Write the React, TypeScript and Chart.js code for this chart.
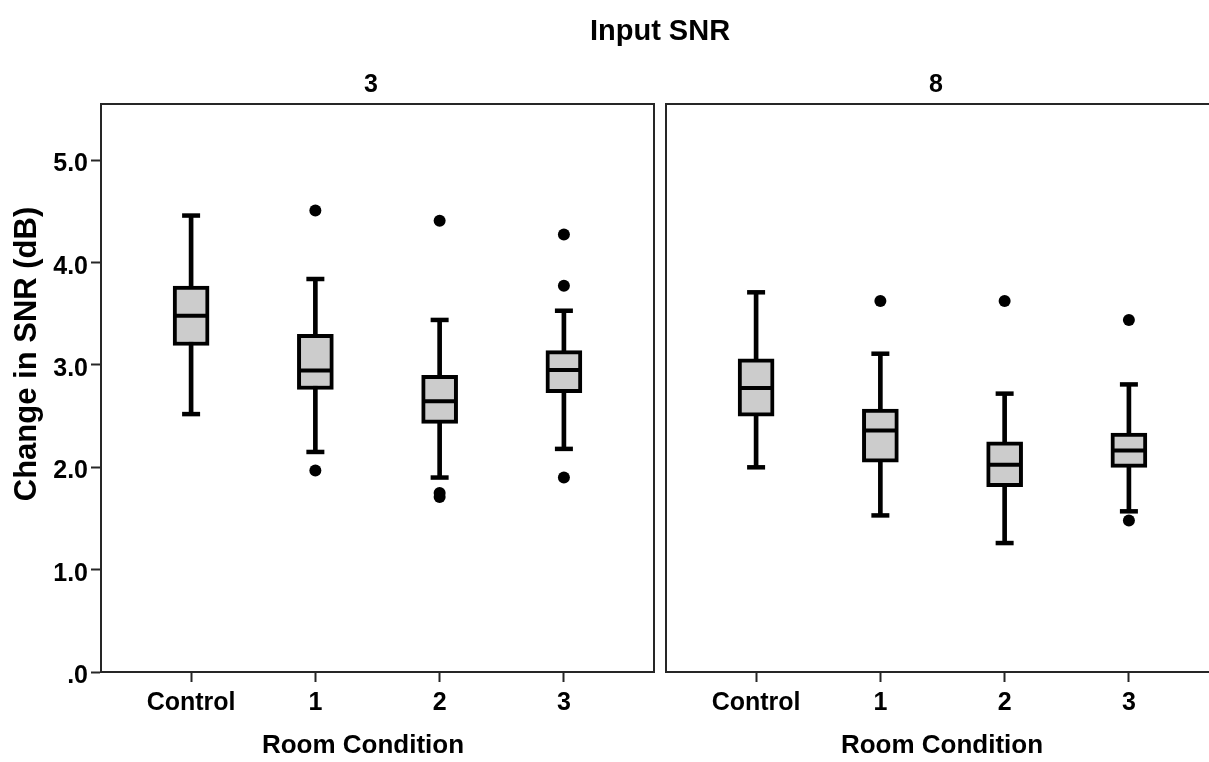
import React, { useEffect, useRef } from 'react';
import { Chart, registerables } from 'chart.js';

Chart.register(...registerables);

// Room conditions on the x axis, in drawing order
const categories = ['Control', '1', '2', '3'];
const yTicks = [0, 1, 2, 3, 4, 5];

// Input SNR = 3 dB
const snr3WhiskerLow = [2.52, 2.15, 1.9, 2.18];
const snr3Q1 = [3.19, 2.76, 2.43, 2.73];
const snr3Median = [3.48, 2.945, 2.645, 2.95];
const snr3Q3 = [3.77, 3.3, 2.9, 3.14];
const snr3WhiskerHigh = [4.46, 3.84, 3.44, 3.53];
const snr3Outliers = [[], [4.51, 1.97], [4.41, 1.75, 1.71], [4.275, 3.775, 1.9]];

// Input SNR = 8 dB
const snr8WhiskerLow = [2.0, 1.53, 1.26, 1.57];
const snr8Q1 = [2.5, 2.05, 1.81, 2.0];
const snr8Median = [2.775, 2.36, 2.025, 2.165];
const snr8Q3 = [3.06, 2.57, 2.25, 2.335];
const snr8WhiskerHigh = [3.71, 3.11, 2.72, 2.81];
const snr8Outliers = [[], [3.625], [3.625], [3.44, 1.48]];

const FONT = "'Liberation Sans', Arial, Helvetica, sans-serif";
const INK = '#000000';
const FRAME = '#262626';
const BOX_FILL = '#cccccc';

const X_MIN = -0.725;
const X_MAX = 3.725;
const Y_MIN = 0;
const Y_MAX = 5.55;

type TextItem = { text: string; x: number; y: number; size: number; rotate?: boolean };

function boxDatasets(
  low: number[],
  q1: number[],
  med: number[],
  q3: number[],
  high: number[],
  outliers: number[][]
) {
  const idx = categories.map((_, i) => i);
  return [
    {
      type: 'bar' as const,
      label: 'whisker',
      data: idx.map((i) => ({ x: i, y: [low[i], high[i]] })),
      backgroundColor: INK,
      borderWidth: 0,
      barThickness: 4,
      grouped: false,
      order: 5,
    },
    {
      type: 'bar' as const,
      label: 'box',
      data: idx.map((i) => ({ x: i, y: [q1[i], q3[i]] })),
      backgroundColor: BOX_FILL,
      borderColor: INK,
      borderWidth: 4,
      borderSkipped: false,
      barThickness: 36,
      grouped: false,
      order: 4,
    },
    {
      type: 'scatter' as const,
      label: 'caps',
      data: idx.flatMap((i) => [
        { x: i, y: low[i] },
        { x: i, y: high[i] },
      ]),
      pointStyle: 'line',
      pointRadius: 9,
      pointBorderWidth: 4.5,
      pointBorderColor: INK,
      order: 3,
    },
    {
      type: 'scatter' as const,
      label: 'median',
      data: idx.map((i) => ({ x: i, y: med[i] })),
      pointStyle: 'line',
      pointRadius: 16,
      pointBorderWidth: 4,
      pointBorderColor: INK,
      order: 2,
    },
    {
      type: 'scatter' as const,
      label: 'outliers',
      data: idx.flatMap((i) => outliers[i].map((v) => ({ x: i, y: v }))),
      pointStyle: 'circle',
      pointRadius: 6,
      pointBorderWidth: 0,
      pointBackgroundColor: INK,
      order: 1,
    },
  ];
}

function makePanel(
  canvas: HTMLCanvasElement,
  datasets: any[],
  showYAxis: boolean,
  padding: { left: number; right: number },
  texts: TextItem[]
) {
  const framePlugin = {
    id: 'panelFrame',
    beforeDatasetsDraw(chart: any) {
      const { ctx, chartArea } = chart;
      ctx.save();
      ctx.strokeStyle = FRAME;
      ctx.lineWidth = 2;
      ctx.strokeRect(chartArea.left, chartArea.top, chartArea.right - chartArea.left, chartArea.bottom - chartArea.top);
      ctx.restore();
    },
    afterDraw(chart: any) {
      const { ctx } = chart;
      ctx.save();
      ctx.fillStyle = INK;
      ctx.textAlign = 'center';
      ctx.textBaseline = 'middle';
      for (const t of texts) {
        ctx.font = `bold ${t.size}px ${FONT}`;
        if (t.rotate) {
          ctx.save();
          ctx.translate(t.x, t.y);
          ctx.rotate(-Math.PI / 2);
          ctx.fillText(t.text, 0, 0);
          ctx.restore();
        } else {
          ctx.fillText(t.text, t.x, t.y);
        }
      }
      ctx.restore();
    },
  };

  return new Chart(canvas, {
    type: 'bar',
    data: { datasets },
    options: {
      responsive: false,
      animation: false,
      events: [],
      devicePixelRatio: 1,
      layout: { padding: { left: padding.left, right: padding.right, top: 104, bottom: 0 } },
      plugins: { legend: { display: false }, tooltip: { enabled: false }, title: { display: false } },
      scales: {
        x: {
          type: 'linear',
          min: X_MIN,
          max: X_MAX,
          offset: false,
          afterFit: (scale: any) => {
            scale.height = 90;
          },
          afterBuildTicks: (scale: any) => {
            scale.ticks = categories.map((_, i) => ({ value: i }));
          },
          grid: {
            offset: false,
            drawOnChartArea: false,
            drawTicks: true,
            tickLength: 10,
            tickWidth: 2,
            tickColor: FRAME,
          },
          border: { display: true, color: FRAME, width: 2 },
          ticks: {
            padding: 6,
            color: INK,
            font: { family: FONT, size: 25, weight: 'bold' },
            maxRotation: 0,
            autoSkip: false,
            callback: (_v: any, i: number) => categories[i],
          },
        },
        y: {
          type: 'linear',
          display: showYAxis,
          min: Y_MIN,
          max: Y_MAX,
          afterFit: (scale: any) => {
            if (showYAxis) scale.width = 101;
          },
          afterBuildTicks: (scale: any) => {
            scale.ticks = yTicks.map((v) => ({ value: v }));
          },
          grid: {
            offset: false,
            drawOnChartArea: false,
            drawTicks: true,
            tickLength: 10,
            tickWidth: 2,
            tickColor: FRAME,
          },
          border: { display: true, color: FRAME, width: 2 },
          ticks: {
            padding: 3,
            labelOffset: 4,
            color: INK,
            font: { family: FONT, size: 25, weight: 'bold' },
            callback: (v: any) => (Number(v) === 0 ? '.0' : Number(v).toFixed(1)),
          },
        },
      },
    } as any,
    plugins: [framePlugin],
  });
}

export default function App() {
  const leftRef = useRef<HTMLCanvasElement>(null);
  const rightRef = useRef<HTMLCanvasElement>(null);

  useEffect(() => {
    if (!leftRef.current || !rightRef.current) return;
    const left = makePanel(
      leftRef.current,
      boxDatasets(snr3WhiskerLow, snr3Q1, snr3Median, snr3Q3, snr3WhiskerHigh, snr3Outliers),
      true,
      { left: 0, right: 1209 - 654 },
      [
        { text: 'Input SNR', x: 660, y: 32, size: 29 },
        { text: '3', x: 371, y: 85, size: 25 },
        { text: 'Room Condition', x: 363, y: 746, size: 26 },
        { text: 'Change in SNR (dB)', x: 27, y: 354, size: 31, rotate: true },
      ]
    );
    const right = makePanel(
      rightRef.current,
      boxDatasets(snr8WhiskerLow, snr8Q1, snr8Median, snr8Q3, snr8WhiskerHigh, snr8Outliers),
      false,
      { left: 666, right: 1240 - 1219 },
      [
        { text: '8', x: 936, y: 85, size: 25 },
        { text: 'Room Condition', x: 942, y: 746, size: 26 },
      ]
    );
    return () => {
      left.destroy();
      right.destroy();
    };
  }, []);

  return (
    <div
      style={{
        position: 'absolute',
        left: 0,
        top: 0,
        width: 1209,
        height: 762,
        overflow: 'hidden',
        background: '#ffffff',
      }}
    >
      <canvas ref={leftRef} width={1209} height={762} style={{ position: 'absolute', left: 0, top: 0, width: 1209, height: 762 }} />
      <canvas ref={rightRef} width={1240} height={762} style={{ position: 'absolute', left: 0, top: 0, width: 1240, height: 762 }} />
    </div>
  );
}
